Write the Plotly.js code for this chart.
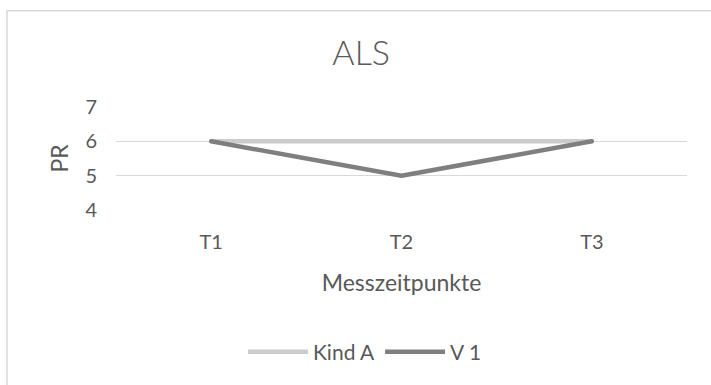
<!DOCTYPE html>
<html>
<head>
<meta charset="utf-8">
<script src="https://cdn.plot.ly/plotly-3.0.1.min.js"></script>
<style>
  html, body { margin: 0; padding: 0; background: #ffffff; }
  #chart { width: 711px; height: 385px; }
  /* rounded line ends for the series */
  #chart .scatterlayer path.js-line { stroke-linecap: round; stroke-linejoin: round; }
</style>
</head>
<body>
<div id="chart"></div>
<script>
// Measurement points and PR values per series
const zeitpunkte = ["T1", "T2", "T3"];
const kindA = [6, 6, 6];
const v1 = [6, 5, 6];
const yTicks = [4, 5, 6, 7];

const FONT = "Lato, 'Open Sans', sans-serif";
const TXT = "#595959";

const traces = [
  {
    x: zeitpunkte, y: kindA, name: "Kind A", type: "scatter", mode: "lines",
    line: { color: "#cccccc", width: 4.5 }
  },
  {
    x: zeitpunkte, y: v1, name: "V 1", type: "scatter", mode: "lines",
    line: { color: "#7f7f7f", width: 4.5 }
  }
];

const layout = {
  width: 711, height: 385,
  margin: { l: 116, r: 24, t: 107, b: 175 },
  paper_bgcolor: "#ffffff", plot_bgcolor: "#ffffff",
  font: { family: FONT, color: TXT },
  title: {
    text: "ALS", font: { family: FONT, size: 34, color: TXT, weight: 300 },
    x: 0.508, xanchor: "center", y: 0.862, yanchor: "middle"
  },
  xaxis: {
    type: "category", range: [-0.5, 2.5], showgrid: false, zeroline: false, showline: false,
    ticks: "", tickfont: { size: 20, color: TXT }, ticklabelstandoff: 18,
    title: { text: "Messzeitpunkte", font: { size: 23, color: TXT }, standoff: 22 },
    fixedrange: true
  },
  yaxis: {
    range: [4, 7], tickvals: yTicks, showgrid: true, gridcolor: "#d9d9d9", gridwidth: 1.5,
    zeroline: false, showline: false, ticks: "", tickfont: { size: 20, color: TXT },
    ticklabelstandoff: 18,
    title: { text: "PR", font: { size: 23, color: TXT }, standoff: 10 },
    fixedrange: true
  },
  showlegend: true,
  legend: {
    orientation: "h", x: 0.436, xanchor: "center", y: -1.38, yanchor: "middle",
    font: { size: 21, color: TXT }, itemwidth: 60, traceorder: "normal"
  },
  shapes: [
    {
      type: "rect", xref: "paper", yref: "paper",
      x0: -0.191, x1: 1.2, y0: -2.0, y1: 1.935,
      line: { color: "#d9d9d9", width: 1.5 }, fillcolor: "rgba(0,0,0,0)", layer: "below"
    }
  ]
};

Plotly.newPlot("chart", traces, layout, { displayModeBar: false, staticPlot: true });
</script>
</body>
</html>
